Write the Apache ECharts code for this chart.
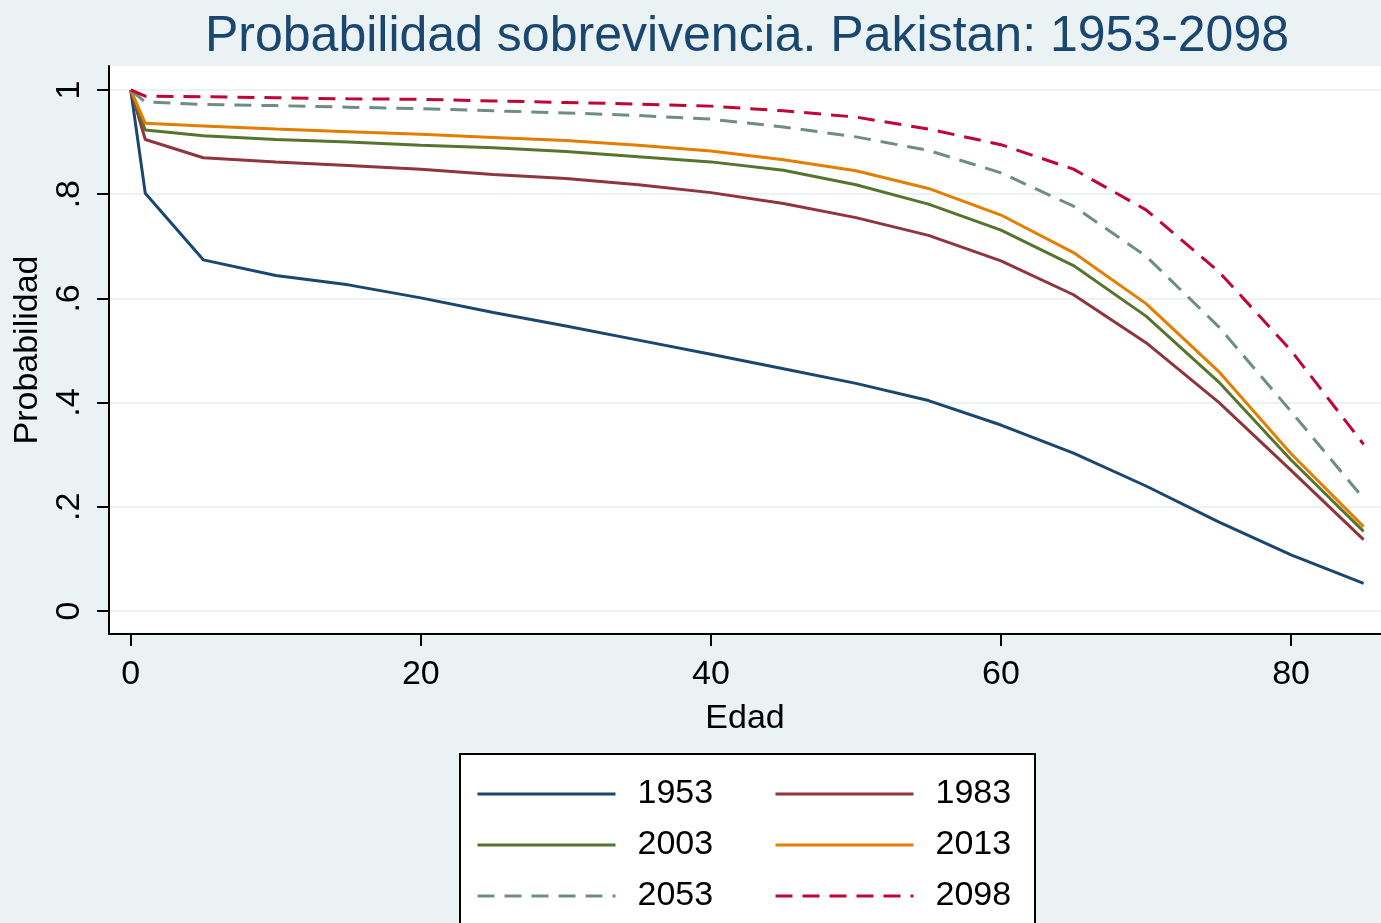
<!DOCTYPE html>
<html>
<head>
<meta charset="utf-8">
<script src="https://cdn.jsdelivr.net/npm/echarts@6/dist/echarts.min.js"></script>
<style>
html,body{margin:0;padding:0;background:#eaf2f3;}
#chart{width:1381px;height:923px;}
</style>
</head>
<body>
<div id="chart"></div>
<script>
var ages = [0, 1, 5, 10, 15, 20, 25, 30, 35, 40, 45, 50, 55, 60, 65, 70, 75, 80, 85];
var s1953 = [1, 0.802, 0.674, 0.644, 0.626, 0.601, 0.573, 0.547, 0.520, 0.493, 0.465, 0.437, 0.404, 0.357, 0.303, 0.240, 0.171, 0.108, 0.053];
var s1983 = [1, 0.905, 0.870, 0.862, 0.855, 0.848, 0.838, 0.830, 0.818, 0.803, 0.782, 0.755, 0.721, 0.672, 0.607, 0.515, 0.401, 0.270, 0.137];
var s2003 = [1, 0.923, 0.912, 0.905, 0.900, 0.894, 0.889, 0.882, 0.872, 0.862, 0.846, 0.818, 0.781, 0.731, 0.663, 0.566, 0.440, 0.290, 0.153];
var s2013 = [1, 0.936, 0.931, 0.925, 0.920, 0.915, 0.909, 0.903, 0.894, 0.883, 0.866, 0.845, 0.811, 0.760, 0.688, 0.590, 0.460, 0.302, 0.162];
var s2053 = [1, 0.977, 0.972, 0.970, 0.967, 0.964, 0.960, 0.956, 0.951, 0.944, 0.929, 0.910, 0.884, 0.841, 0.777, 0.681, 0.546, 0.383, 0.216];
var s2098 = [1, 0.988, 0.987, 0.985, 0.983, 0.982, 0.979, 0.976, 0.973, 0.969, 0.960, 0.948, 0.925, 0.895, 0.848, 0.770, 0.652, 0.500, 0.320];

var seriesNames = ['1953', '1983', '2003', '2013', '2053', '2098'];
var xTicks = [0, 20, 40, 60, 80];
var xTickLabels = ['0', '20', '40', '60', '80'];
var yTicks = [0, 0.2, 0.4, 0.6, 0.8, 1];
var yTickLabels = ['0', '.2', '.4', '.6', '.8', '1'];

var FONT = "'Liberation Sans', Arial, Helvetica, sans-serif";
var colors = ['#1a476f', '#90353b', '#55752f', '#e37e00', '#6e8e84', '#c10534'];
var dashed = [false, false, false, false, true, true];
var allData = [s1953, s1983, s2003, s2013, s2053, s2098];

function pairs(arr) {
  return ages.map(function (a, i) { return [a, arr[i]]; });
}
function labelFor(ticks, labels, v) {
  for (var i = 0; i < ticks.length; i++) {
    if (Math.abs(ticks[i] - v) < 1e-6) return labels[i];
  }
  return '';
}

var series = seriesNames.map(function (name, i) {
  return {
    name: name,
    type: 'line',
    data: pairs(allData[i]),
    symbol: 'none',
    showSymbol: false,
    smooth: false,
    silent: true,
    animation: false,
    lineStyle: {
      color: colors[i],
      width: 3,
      type: dashed[i] ? [17, 10] : 'solid'
    },
    itemStyle: { color: colors[i] }
  };
});

function makeLegend(left, names) {
  return {
    orient: 'vertical',
    left: left,
    top: 774,
    z: 10,
    itemWidth: 138,
    itemHeight: 14,
    itemGap: 11,
    padding: 0,
    selectedMode: false,
    data: names,
    itemStyle: { opacity: 0 },
    lineStyle: { width: 3 },
    textStyle: { fontFamily: FONT, fontSize: 34, color: '#000', lineHeight: 40, padding: [0, 0, 0, 17] }
  };
}

var chart = echarts.init(document.getElementById('chart'), null, { renderer: 'canvas' });
chart.setOption({
  backgroundColor: '#eaf2f3',
  animation: false,
  title: {
    text: 'Probabilidad sobrevivencia. Pakistan: 1953-2098',
    left: 205,
    top: 12,
    padding: 0,
    textStyle: { fontFamily: FONT, fontSize: 50, fontWeight: 'normal', color: '#1a476f' }
  },
  grid: {
    left: 109, right: 0, top: 66, bottom: 289,
    show: true, backgroundColor: '#ffffff', borderWidth: 0,
    containLabel: false
  },
  legend: [
    makeLegend(476, ['1953', '2003', '2053']),
    makeLegend(774, ['1983', '2013', '2098'])
  ],
  graphic: [{
    type: 'rect',
    z: 0,
    shape: { x: 460, y: 754, width: 575, height: 200 },
    style: { fill: '#ffffff', stroke: '#000000', lineWidth: 2 },
    silent: true
  }],
  xAxis: {
    type: 'value',
    min: -1.5,
    max: 86.2,
    splitNumber: 5,
    name: 'Edad',
    nameLocation: 'middle',
    nameGap: 68,
    nameTextStyle: { fontFamily: FONT, fontSize: 34, color: '#000' },
    axisLine: { show: true, onZero: false, lineStyle: { color: '#000', width: 2 } },
    axisTick: { show: true, length: 12, lineStyle: { color: '#000', width: 2 }, customValues: xTicks },
    axisLabel: {
      fontFamily: FONT, fontSize: 34, color: '#000', margin: 24,
      customValues: xTicks,
      formatter: function (v) { return labelFor(xTicks, xTickLabels, v); }
    },
    splitLine: { show: false }
  },
  yAxis: {
    type: 'value',
    min: -0.044,
    max: 1.046,
    splitNumber: 5,
    name: 'Probabilidad',
    nameLocation: 'middle',
    nameGap: 64,
    nameRotate: 90,
    nameTextStyle: { fontFamily: FONT, fontSize: 34, color: '#000' },
    axisLine: { show: true, onZero: false, lineStyle: { color: '#000', width: 2 } },
    axisTick: { show: true, length: 12, lineStyle: { color: '#000', width: 2 }, customValues: yTicks },
    axisLabel: {
      fontFamily: FONT, fontSize: 34, color: '#000', margin: 22, rotate: 90,
      customValues: yTicks,
      formatter: function (v) { return labelFor(yTicks, yTickLabels, v); }
    },
    splitLine: { show: true, lineStyle: { color: '#eaf2f3', width: 2 } }
  },
  series: series
});
</script>
</body>
</html>
